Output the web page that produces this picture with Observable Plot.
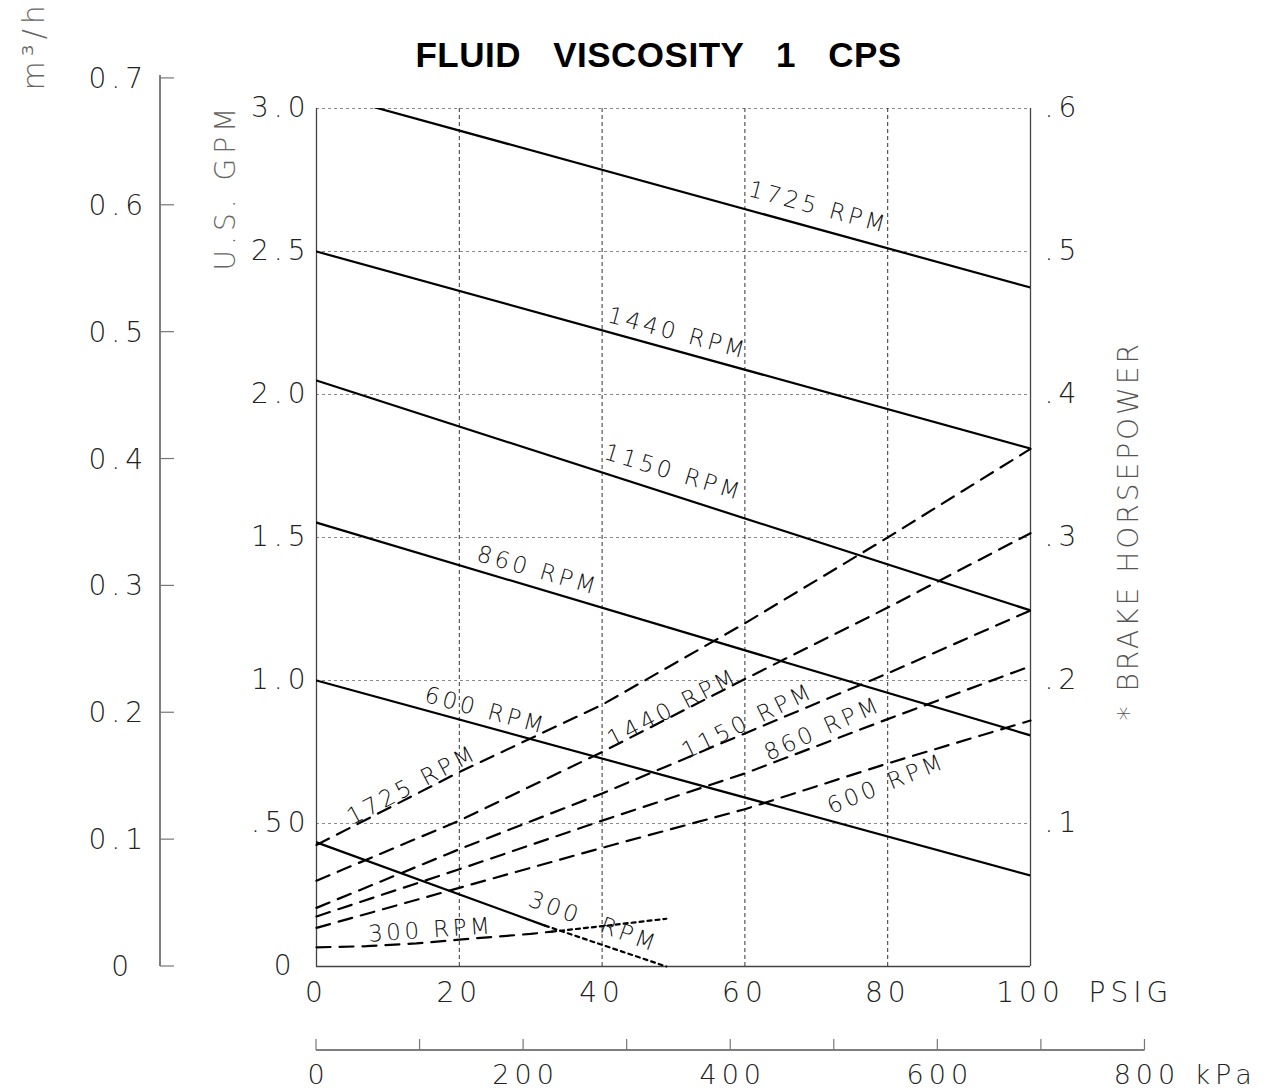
<!DOCTYPE html>
<html>
<head>
<meta charset="utf-8">
<script src="https://cdn.jsdelivr.net/npm/d3@7"></script>
<script src="https://cdn.jsdelivr.net/npm/@observablehq/plot@0.6"></script>
<style>
  body { margin: 0; background: #fff; }
</style>
</head>
<body>
<div id="chart"></div>
<script>
// ---------------- DATA ----------------
const chartTitle = "FLUID VISCOSITY 1 CPS";

// bottom axis (PSIG)
const psigTicks = [0, 20, 40, 60, 80, 100];
const psigLabels = ["0", "20", "40", "60", "80", "100"];
// left axis (U.S. GPM)
const gpmTicks = [0, 0.5, 1.0, 1.5, 2.0, 2.5, 3.0];
const gpmLabels = ["0\u00A0", ".50", "1.0", "1.5", "2.0", "2.5", "3.0"];
// right axis (brake horsepower)
const hpTicks = [0.1, 0.2, 0.3, 0.4, 0.5, 0.6];
const hpLabels = [".1", ".2", ".3", ".4", ".5", ".6"];
// far-left axis (m3/h)
const m3hTicks = [0, 0.1, 0.2, 0.3, 0.4, 0.5, 0.6, 0.7];
const m3hLabels = ["0\u00A0", "0.1", "0.2", "0.3", "0.4", "0.5", "0.6", "0.7"];
// lower axis (kPa)
const kpaTicks = [0, 100, 200, 300, 400, 500, 600, 700, 800];
const kpaLabelValues = [0, 200, 400, 600, 800];
const kpaLabels = ["0", "200", "400", "600", "800"];

// unit relations between the axes
const HP_TO_GPM = 5;          // .6 HP sits at 3.0 GPM
const GPM_PER_M3H = 4.436;    // m3/h scale as printed
const KPA_PER_PSI = 6.89476;

// flow (solid) curves, GPM vs PSIG
const flowPsig = [0, 100];
const flow1725 = [3.06, 2.374];
const flow1440 = [2.50, 1.811];
const flow1150 = [2.049, 1.245];
const flow860 = [1.552, 0.808];
const flow600 = [1.00, 0.318];
const flowPsig300 = [0, 32, 49];
const flow300 = [0.434, 0.143, 0.0];   // dotted after 32 PSIG

// brake horsepower (dashed) curves, HP vs PSIG
const hpPsig = [0, 20, 40, 60, 80, 100];
const hp1725 = [0.085, 0.136, 0.183, 0.240, 0.300, 0.362];
const hp1440 = [0.060, 0.102, 0.150, 0.201, 0.251, 0.303];
const hp1150 = [0.041, 0.082, 0.121, 0.163, 0.205, 0.249];
const hp860 = [0.035, 0.068, 0.102, 0.135, 0.173, 0.210];
const hp600 = [0.027, 0.055, 0.083, 0.110, 0.142, 0.172];
const hpPsig300 = [0, 7, 14, 20, 30, 33, 40, 49];
const hp300 = [0.0134, 0.0142, 0.0162, 0.0188, 0.0228, 0.0244, 0.0282, 0.0334]; // dotted after 33 PSIG

const rpms = [1725, 1440, 1150, 860, 600, 300];
const flowLabelText = ["1725 RPM", "1440 RPM", "1150 RPM", "860 RPM", "600 RPM", "300  RPM"];
const hpLabelText = ["1725 RPM", "1440 RPM", "1150 RPM", "860 RPM", "600 RPM", "300 RPM"];

// ---------------- LAYOUT ----------------
const W = 1273, H = 1092, ML = 316, MR = 243, MT = 108, MB = 126;
const pxPerGpm = (H - MT - MB) / 3;
// label placement along each curve: PSIG position, pixel offset, rotation
const flowLabelAt = [70.3, 50.6, 50.0, 31.0, 23.7, 38.8];
const flowLabelOff = [-22, -18, -23, -18, -16, -20];
const flowLabelRot = [15, 15, 17, 16, 15, 20];
const hpLabelAt = [13.4, 49.9, 60.4, 70.9, 79.8, 16];
const hpLabelOff = [-11, -8, -11, -15, 20, -12];
const hpLabelRot = [-28, -27.5, -26, -24, -22, -4];

// ---------------- BUILD TABLES ----------------
const flowSeries = [
  [flowPsig, flow1725], [flowPsig, flow1440], [flowPsig, flow1150],
  [flowPsig, flow860], [flowPsig, flow600], [flowPsig300, flow300]
];
const hpSeries = [
  [hpPsig, hp1725], [hpPsig, hp1440], [hpPsig, hp1150],
  [hpPsig, hp860], [hpPsig, hp600], [hpPsig300, hp300]
];
function interp(xs, ys, x) {
  for (let i = 0; i < xs.length - 1; i++) {
    if (x >= xs[i] && x <= xs[i + 1]) {
      const t = (x - xs[i]) / (xs[i + 1] - xs[i]);
      return ys[i] + t * (ys[i + 1] - ys[i]);
    }
  }
  return ys[ys.length - 1];
}
const flowSolid = [], flowDotted = [], hpDashed = [], hpDotted = [];
flowSeries.forEach(([xs, ys], k) => {
  xs.forEach((p, i) => {
    const row = {rpm: rpms[k], psig: p, gpm: ys[i]};
    if (rpms[k] === 300) {
      if (i <= 1) flowSolid.push(row);
      if (i >= 1) flowDotted.push({...row, rpm: "d300"});
    } else flowSolid.push(row);
  });
});
hpSeries.forEach(([xs, ys], k) => {
  xs.forEach((p, i) => {
    const row = {rpm: rpms[k], psig: p, hp: ys[i]};
    if (rpms[k] === 300) {
      if (i <= 5) hpDashed.push(row);
      if (i >= 5) hpDotted.push({...row, rpm: "d300"});
    } else hpDashed.push(row);
  });
});
const flowLabels = rpms.map((r, k) => ({
  text: flowLabelText[k], psig: flowLabelAt[k],
  y: interp(flowSeries[k][0], flowSeries[k][1], flowLabelAt[k]) - flowLabelOff[k] / pxPerGpm,
  angle: flowLabelRot[k]
}));
const hpCurveLabels = rpms.map((r, k) => ({
  text: hpLabelText[k], psig: hpLabelAt[k],
  y: interp(hpSeries[k][0], hpSeries[k][1], hpLabelAt[k]) * HP_TO_GPM - hpLabelOff[k] / pxPerGpm,
  angle: hpLabelRot[k]
}));

function findScales(args) {
  return args.find(a => a && typeof a.x === "function" && typeof a.y === "function");
}
// far-left m3/h axis
function m3hAxis(...args) {
  const s = findScales(args);
  const g = d3.create("svg:g").attr("aria-label", "m3h-axis");
  const ax = ML - 156;
  const y = v => s.y(v * GPM_PER_M3H);
  g.append("line").attr("x1", ax).attr("x2", ax)
    .attr("y1", y(0)).attr("y2", y(d3.max(m3hTicks)) - 3)
    .attr("stroke", "#555").attr("stroke-width", 1.5);
  m3hTicks.forEach((v, i) => {
    g.append("line").attr("x1", ax).attr("x2", ax + 14).attr("y1", y(v)).attr("y2", y(v))
      .attr("stroke", "#777").attr("stroke-width", 1.2);
    g.append("text").attr("x", ax - 12).attr("y", y(v)).attr("dy", "0.36em")
      .attr("text-anchor", "end").attr("font-size", 28).attr("fill", "#222").text(m3hLabels[i]);
  });
  return g.node();
}
// lower kPa axis
function kpaAxis(...args) {
  const s = findScales(args);
  const g = d3.create("svg:g").attr("aria-label", "kpa-axis");
  const ay = H - MB + 84;
  const x = v => s.x(v / KPA_PER_PSI);
  g.append("line").attr("x1", x(0)).attr("x2", x(d3.max(kpaTicks)))
    .attr("y1", ay).attr("y2", ay).attr("stroke", "#555").attr("stroke-width", 1.5);
  kpaTicks.forEach(v => {
    g.append("line").attr("x1", x(v)).attr("x2", x(v)).attr("y1", ay).attr("y2", ay - 11)
      .attr("stroke", "#777").attr("stroke-width", 1.2);
  });
  kpaLabelValues.forEach((v, i) => {
    g.append("text").attr("x", x(v) + 2.5).attr("y", ay + 24).attr("dy", "0.36em")
      .attr("text-anchor", "middle").attr("font-size", 27).attr("fill", "#222").text(kpaLabels[i]);
  });
  g.append("text").attr("x", x(d3.max(kpaTicks)) + 50).attr("y", ay + 24).attr("dy", "0.36em")
    .attr("text-anchor", "start").attr("font-size", 27).attr("fill", "#222").text("kPa");
  return g.node();
}

const lookup = (ticks, labels) => d => {
  const i = ticks.findIndex(v => Math.abs(v - d) < 1e-9);
  return i >= 0 ? labels[i] : "";
};

const plot = Plot.plot({
  width: W, height: H,
  marginLeft: ML, marginRight: MR, marginTop: MT, marginBottom: MB,
  x: {domain: [0, 100], label: null},
  y: {domain: [0, 3], label: null},
  style: "font-family: 'DejaVu Sans', sans-serif; font-weight: 200; letter-spacing: 5px; background: #fff; color: #222;",
  marks: [
    // grid
    Plot.ruleY(gpmTicks.filter(v => v > 0), {stroke: "#8a8a8a", strokeDasharray: "3,3", strokeWidth: 1}),
    Plot.ruleX(psigTicks.filter(v => v > 0 && v < 100), {stroke: "#333", strokeDasharray: "4,3", strokeWidth: 1}),
    // frame
    Plot.ruleX([0, 100], {stroke: "#444", strokeWidth: 1.3}),
    Plot.ruleY([0], {stroke: "#444", strokeWidth: 1.3}),
    // curves
    Plot.line(flowSolid, {x: "psig", y: "gpm", z: "rpm", stroke: "#000", strokeWidth: 2.2, clip: true}),
    Plot.line(flowDotted, {x: "psig", y: "gpm", z: "rpm", stroke: "#000", strokeWidth: 2.2, strokeDasharray: "4,4"}),
    Plot.line(hpDashed, {x: "psig", y: d => d.hp * HP_TO_GPM, z: "rpm", stroke: "#000", strokeWidth: 2.2, strokeDasharray: "14,9"}),
    Plot.line(hpDotted, {x: "psig", y: d => d.hp * HP_TO_GPM, z: "rpm", stroke: "#000", strokeWidth: 2.2, strokeDasharray: "4,4"}),
    // curve labels
    Plot.text(flowLabels, {x: "psig", y: "y", text: "text", rotate: "angle", fontSize: 23, fill: "#111"}),
    Plot.text(hpCurveLabels, {x: "psig", y: "y", text: "text", rotate: "angle", fontSize: 23, fill: "#111"}),
    // axes
    Plot.axisY({anchor: "left", label: null, ticks: gpmTicks, tickFormat: lookup(gpmTicks, gpmLabels), tickSize: 0, tickPadding: 6, fontSize: 28}),
    Plot.axisX({anchor: "bottom", label: null, ticks: psigTicks, tickFormat: lookup(psigTicks, psigLabels), tickSize: 0, tickPadding: 16, fontSize: 28}),
    Plot.text(hpTicks, {y: d => d * HP_TO_GPM, text: (d, i) => hpLabels[i], frameAnchor: "right", textAnchor: "start", dx: 14, fontSize: 28}),
    Plot.text(["PSIG"], {text: d => d, frameAnchor: "bottom-right", dx: 58, dy: 16, lineAnchor: "top", textAnchor: "start", fontSize: 28}),
    Plot.text(["U.S. GPM"], {text: d => d, frameAnchor: "top-left", dx: -101, dy: 162, rotate: -90, textAnchor: "start", fontSize: 28, fill: "#666"}),
    Plot.text(["* BRAKE HORSEPOWER"], {text: d => d, frameAnchor: "top-right", dx: 88, dy: 612, rotate: -90, textAnchor: "start", fontSize: 28, fill: "#555"}),
    Plot.text(["m³/h"], {text: d => d, frameAnchor: "top-left", dx: -294, dy: -18, rotate: -90, textAnchor: "start", fontSize: 30, fill: "#666"}),
    Plot.text([chartTitle], {text: d => d, frameAnchor: "top", dx: -15, dy: -66, fontSize: 35, fontWeight: "bold", fontFamily: "'Liberation Sans', Arial, sans-serif", fill: "#000"}),
    m3hAxis,
    kpaAxis
  ]
});

// per-text spacing tweaks
const curveTexts = new Set([...flowLabelText, ...hpLabelText]);
plot.querySelectorAll("text").forEach(t => {
  const s = t.textContent;
  if (s === chartTitle) { t.style.letterSpacing = "0.5px"; t.style.wordSpacing = "22px"; }
  else if (curveTexts.has(s)) { t.style.letterSpacing = "3.5px"; }
  else if (s === "* BRAKE HORSEPOWER") { t.style.letterSpacing = "3px"; }
});
document.getElementById("chart").appendChild(plot);
</script>
</body>
</html>
